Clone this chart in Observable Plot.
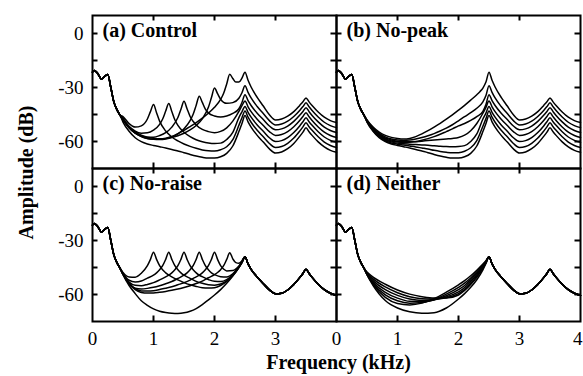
<!DOCTYPE html>
<html><head><meta charset="utf-8">
<script src="https://cdn.jsdelivr.net/npm/d3@7"></script>
<script src="https://cdn.jsdelivr.net/npm/@observablehq/plot@0.6"></script>
<style>html,body{margin:0;padding:0;background:#fff;}</style>
</head><body><div id="chart"></div>
<script>
// ---- panel meta ----
const panelLabels = ["(a) Control", "(b) No-peak", "(c) No-raise", "(d) Neither"];
const panelCols = ["L", "R", "L", "R"];
const panelRowsId = ["top", "top", "bot", "bot"];
const yTickValues = [0, -30, -60];
const yMinorTicks = [0, -15, -30, -45, -60];
const xTickValues = [1, 2, 3];
const xLabelsLeft = [0, 1, 2, 3];
const xLabelsRight = [0, 1, 2, 3, 4];

// ---- shared low-frequency part (kHz, dB) ----
const onset = [[0,-21.5],[0.03,-20.5],[0.08,-22],[0.15,-25.3],[0.2,-23.8],[0.25,-22.8],[0.3,-30],[0.35,-38],[0.4,-42.3],[0.45,-45.3]];

// ---- (a) Control: mid section 0.5-2.5 kHz ----
const ctrlNone = [[0.5,-49.2],[0.6,-54.3],[0.7,-57.9],[0.8,-60.1],[0.9,-61.4],[1.0,-62.2],[1.1,-62.9],[1.2,-63.6],[1.3,-64.4],[1.4,-65.3],[1.5,-66.2],[1.6,-67.2],[1.7,-68.1],[1.8,-68.8],[1.9,-69.2],[2.0,-69.2],[2.1,-68.5],[2.2,-66.6],[2.3,-62.5],[2.4,-54.5],[2.45,-50],[2.5,-45.5]];
const ctrl100 = [[0.5,-46.2],[0.6,-50.1],[0.7,-52],[0.8,-51.3],[0.9,-47.5],[0.95,-43.4],[1.0,-39.4],[1.05,-44],[1.1,-48.7],[1.2,-54.2],[1.3,-57.5],[1.4,-59.7],[1.5,-61.4],[1.6,-62.7],[1.7,-63.8],[1.8,-64.7],[1.9,-65.2],[2.0,-65.3],[2.1,-64.6],[2.2,-62.9],[2.3,-59],[2.4,-51],[2.45,-46.8],[2.5,-43]];
const ctrl125 = [[0.5,-47.1],[0.6,-51.6],[0.7,-54.3],[0.8,-55.4],[0.9,-55.2],[1.0,-53.7],[1.1,-50.5],[1.15,-47.5],[1.2,-43.1],[1.25,-38.9],[1.3,-43.3],[1.35,-47.9],[1.4,-51.1],[1.5,-54.9],[1.6,-57.3],[1.7,-59],[1.8,-60.1],[1.9,-60.8],[2.0,-61.1],[2.1,-60.9],[2.2,-58.9],[2.3,-54.9],[2.4,-46.7],[2.45,-43.5],[2.5,-40.5]];
const ctrl150 = [[0.5,-47.7],[0.6,-52.3],[0.7,-55.2],[0.8,-56.9],[0.9,-57.6],[1.0,-57.6],[1.1,-56.7],[1.2,-55.1],[1.3,-52],[1.4,-46.7],[1.45,-42.1],[1.5,-37.6],[1.55,-41.8],[1.6,-46.1],[1.7,-50.8],[1.8,-53.3],[1.9,-54.5],[2.0,-55.1],[2.1,-54.4],[2.2,-52.4],[2.3,-48.7],[2.4,-43.3],[2.45,-40.1],[2.5,-37.5]];
const ctrl175 = [[0.5,-48],[0.6,-52.4],[0.7,-55.4],[0.8,-57.3],[0.9,-58.4],[1.0,-58.8],[1.1,-58.8],[1.2,-58.4],[1.3,-57.5],[1.4,-55.7],[1.5,-52.9],[1.6,-48.4],[1.65,-44.9],[1.7,-39.8],[1.75,-34.8],[1.8,-38.3],[1.85,-42],[1.9,-44.1],[2.0,-45.8],[2.1,-46.4],[2.2,-45.8],[2.3,-44.4],[2.4,-41.8],[2.45,-38.3],[2.5,-34]];
const ctrl200 = [[0.5,-48],[0.6,-52.3],[0.7,-55.3],[0.8,-57.1],[0.9,-58.3],[1.0,-58.8],[1.1,-58.9],[1.2,-58.6],[1.3,-57.8],[1.4,-56.8],[1.5,-55.4],[1.6,-53.6],[1.7,-51.1],[1.8,-47.4],[1.9,-41],[1.95,-35.6],[2.0,-30.3],[2.05,-33.4],[2.1,-36.5],[2.2,-38.8],[2.3,-38.4],[2.4,-36],[2.45,-32.9],[2.5,-29]];
const ctrl225 = [[0.5,-48],[0.6,-51.9],[0.7,-54.7],[0.8,-56.5],[0.9,-57.6],[1.0,-58.2],[1.1,-58.5],[1.2,-58.2],[1.3,-57.2],[1.4,-55.6],[1.5,-53.8],[1.6,-51.7],[1.7,-49.5],[1.8,-47],[1.9,-44.3],[2.0,-41],[2.1,-36.6],[2.15,-33.2],[2.2,-28],[2.25,-22.7],[2.3,-25],[2.35,-27],[2.4,-27],[2.45,-24.8],[2.5,-21.5]];

// ---- (b) No-peak ----
const npNone = ctrlNone;
const np100 = [[0.5,-49],[0.6,-54],[0.7,-57.5],[0.8,-59.6],[0.9,-60.8],[1.0,-61.5],[1.1,-62],[1.2,-62.5],[1.3,-63],[1.4,-63.6],[1.5,-64.2],[1.6,-64.9],[1.7,-65.5],[1.8,-66],[1.9,-66.3],[2.0,-66.2],[2.1,-65.4],[2.2,-63.5],[2.3,-59.5],[2.4,-51.5],[2.45,-47.3],[2.5,-43]];
const np125 = [[0.5,-48.8],[0.6,-53.7],[0.7,-57],[0.8,-59],[0.9,-60.2],[1.0,-60.9],[1.1,-61.3],[1.2,-61.5],[1.3,-61.7],[1.4,-61.9],[1.5,-62.1],[1.6,-62.3],[1.7,-62.6],[1.8,-62.8],[1.9,-62.9],[2.0,-62.8],[2.1,-62.3],[2.2,-60],[2.3,-55.8],[2.4,-47.5],[2.45,-44.2],[2.5,-40.5]];
const np150 = [[0.5,-48.6],[0.6,-53.3],[0.7,-56.5],[0.8,-58.5],[0.9,-59.7],[1.0,-60.3],[1.1,-60.5],[1.2,-60.4],[1.3,-60.1],[1.4,-59.8],[1.5,-59.5],[1.6,-59.2],[1.7,-58.9],[1.8,-58.6],[1.9,-58.3],[2.0,-57.8],[2.1,-56.5],[2.2,-54],[2.3,-50],[2.4,-44.3],[2.45,-41],[2.5,-37.5]];
const np175 = [[0.5,-48.4],[0.6,-52.9],[0.7,-56],[0.8,-58],[0.9,-59.2],[1.0,-59.9],[1.1,-60.2],[1.2,-60.2],[1.3,-60],[1.4,-59.3],[1.5,-58.4],[1.6,-57.3],[1.7,-56],[1.8,-54.5],[1.9,-53],[2.0,-51.3],[2.1,-50],[2.2,-48.3],[2.3,-46.2],[2.4,-43.2],[2.45,-39.5],[2.5,-34]];
const np200 = [[0.5,-48.2],[0.6,-52.5],[0.7,-55.5],[0.8,-57.4],[0.9,-58.6],[1.0,-59.2],[1.1,-59.4],[1.2,-59.2],[1.3,-58.6],[1.4,-57.8],[1.5,-56.8],[1.6,-55.6],[1.7,-54.2],[1.8,-52.6],[1.9,-50.7],[2.0,-48.5],[2.1,-46.2],[2.2,-44],[2.3,-41.5],[2.4,-38],[2.45,-34.5],[2.5,-29]];
const np225 = [[0.5,-48],[0.6,-52],[0.7,-54.8],[0.8,-56.6],[0.9,-57.7],[1.0,-58.3],[1.1,-58.6],[1.2,-58.3],[1.3,-57.3],[1.4,-55.8],[1.5,-54],[1.6,-52],[1.7,-49.9],[1.8,-47.6],[1.9,-45.2],[2.0,-42.6],[2.1,-39.9],[2.2,-37],[2.3,-34],[2.35,-32.3],[2.4,-30.3],[2.45,-27],[2.5,-21.5]];

// ---- (c) No-raise ----
const nrNone = [[0.5,-49],[0.6,-55],[0.7,-59.5],[0.8,-63.5],[0.9,-66],[1.0,-68],[1.1,-69.3],[1.2,-70],[1.3,-70.4],[1.4,-70.5],[1.5,-70.2],[1.6,-69.3],[1.7,-67.8],[1.8,-65.6],[1.9,-63],[2.0,-60.3],[2.1,-57.3],[2.2,-53.8],[2.3,-49.8],[2.4,-45],[2.45,-42.2],[2.5,-39]];
const nr100 = [[0.5,-47.7],[0.6,-50.3],[0.7,-50.4],[0.8,-48.2],[0.9,-44],[0.95,-40.5],[1.0,-36.5],[1.05,-40.5],[1.1,-44],[1.2,-48],[1.3,-50.2],[1.4,-51.9],[1.5,-53.4],[1.6,-54.6],[1.7,-55.5],[1.8,-56.2],[1.9,-56.4],[2.0,-56.2],[2.1,-55],[2.2,-52.8],[2.3,-49.4],[2.4,-44.9],[2.45,-42.1],[2.5,-39]];
const nr125 = [[0.5,-48.3],[0.6,-52.1],[0.7,-53],[0.8,-52.5],[0.9,-50.9],[1.0,-49.3],[1.05,-48],[1.1,-46.3],[1.15,-44],[1.2,-40.5],[1.25,-36.5],[1.3,-40.5],[1.35,-44],[1.4,-46.3],[1.45,-48],[1.5,-49.3],[1.6,-51],[1.7,-52.7],[1.8,-53.8],[1.9,-54.6],[2.0,-54.8],[2.1,-54.2],[2.2,-52.4],[2.3,-49.3],[2.4,-44.9],[2.45,-42.1],[2.5,-39]];
const nr150 = [[0.5,-48.5],[0.6,-53.1],[0.7,-54.9],[0.8,-55.1],[0.9,-54.4],[1.0,-53.4],[1.1,-51.9],[1.2,-50.2],[1.25,-49.3],[1.3,-48],[1.35,-46.3],[1.4,-44],[1.45,-40.5],[1.5,-36.5],[1.55,-40.5],[1.6,-44],[1.65,-46.3],[1.7,-48],[1.75,-49.3],[1.8,-50.1],[1.9,-51.7],[2.0,-52.7],[2.1,-52.8],[2.2,-51.7],[2.3,-49],[2.4,-44.8],[2.45,-42.1],[2.5,-39]];
const nr175 = [[0.5,-48.7],[0.6,-53.6],[0.7,-56.5],[0.8,-56.9],[0.9,-56.6],[1.0,-56],[1.1,-55.1],[1.2,-54],[1.3,-52.8],[1.4,-51.1],[1.5,-49.3],[1.55,-48],[1.6,-46.3],[1.65,-44],[1.7,-40.5],[1.75,-36.5],[1.8,-40.5],[1.85,-44],[1.9,-46.3],[1.95,-48],[2.0,-49],[2.1,-50.1],[2.2,-50.3],[2.3,-48.5],[2.4,-44.6],[2.45,-42.1],[2.5,-39]];
const nr200 = [[0.5,-48.7],[0.6,-53.9],[0.7,-56.7],[0.8,-58],[0.9,-58.1],[1.0,-57.9],[1.1,-57.2],[1.2,-56.5],[1.3,-55.7],[1.4,-54.6],[1.5,-53.5],[1.6,-52],[1.7,-50.2],[1.75,-49.3],[1.8,-48],[1.85,-46.3],[1.9,-44],[1.95,-40.5],[2.0,-36.5],[2.05,-40.5],[2.1,-44],[2.15,-45.9],[2.2,-46.9],[2.3,-46.7],[2.4,-44.2],[2.45,-41.9],[2.5,-39]];
const nr225 = [[0.5,-48.8],[0.6,-54.1],[0.7,-57.3],[0.8,-58.9],[0.9,-59.2],[1.0,-59.2],[1.1,-58.8],[1.2,-58.3],[1.3,-57.7],[1.4,-57],[1.5,-56.1],[1.6,-55.1],[1.7,-53.9],[1.8,-52.6],[1.9,-50.7],[2.0,-49],[2.05,-47.8],[2.1,-46.2],[2.15,-44],[2.2,-40.5],[2.25,-36.8],[2.3,-40.2],[2.35,-42.3],[2.4,-42.6],[2.45,-41.3],[2.5,-39]];

// ---- (d) Neither ----
const nNone = [[0.5,-49],[0.6,-55],[0.7,-59.7],[0.8,-63.3],[1.0,-67.5],[1.2,-69.6],[1.4,-70.4],[1.6,-70.1],[1.8,-67.5],[2.0,-62.5],[2.1,-59.5],[2.2,-56],[2.3,-51.8],[2.4,-46.3],[2.45,-42.8],[2.5,-39]];
const n100 = [[0.5,-47.5],[0.6,-50.3],[0.8,-54.3],[1.0,-57.5],[1.2,-59.8],[1.4,-61.2],[1.6,-62],[1.8,-62],[2.0,-60.3],[2.1,-57.8],[2.2,-54.5],[2.3,-50.5],[2.4,-45.5],[2.45,-42.5],[2.5,-39]];
const n125 = [[0.5,-48],[0.6,-51.3],[0.8,-55.8],[1.0,-59],[1.2,-61.2],[1.4,-62.3],[1.6,-62.5],[1.8,-61.8],[2.0,-59.5],[2.1,-57.3],[2.2,-53.8],[2.3,-49.8],[2.4,-45],[2.45,-42.1],[2.5,-39]];
const n150 = [[0.5,-48.3],[0.6,-52.3],[0.8,-57.3],[1.0,-60.5],[1.2,-62.5],[1.4,-63.3],[1.6,-62.8],[1.8,-61.3],[2.0,-58.5],[2.1,-56.2],[2.2,-52.8],[2.3,-49],[2.4,-44.6],[2.45,-42],[2.5,-39]];
const n175 = [[0.5,-48.6],[0.6,-53.2],[0.8,-58.8],[1.0,-62],[1.2,-63.8],[1.4,-64],[1.6,-63],[1.8,-60.7],[2.0,-57.3],[2.1,-55],[2.2,-51.8],[2.3,-48.2],[2.4,-44.1],[2.45,-41.8],[2.5,-39]];
const n200 = [[0.5,-48.8],[0.6,-53.9],[0.8,-60.2],[1.0,-63.5],[1.2,-64.8],[1.4,-64.5],[1.6,-62.8],[1.8,-59.8],[2.0,-56],[2.1,-53.7],[2.2,-50.8],[2.3,-47.4],[2.4,-43.6],[2.45,-41.5],[2.5,-39]];
const n225 = [[0.5,-49],[0.6,-54.4],[0.8,-61.6],[1.0,-65],[1.2,-65.8],[1.4,-64.8],[1.6,-62.3],[1.8,-58.7],[2.0,-54.6],[2.1,-52.3],[2.2,-49.6],[2.3,-46.5],[2.4,-43],[2.45,-41.2],[2.5,-39]];

// ---- high-frequency tails (2.55-4 kHz) ----
const tailNone = [[2.55,-49.1],[2.6,-52],[2.7,-56.6],[2.8,-60.3],[2.9,-64.1],[3.0,-66.4],[3.1,-65.8],[3.2,-64],[3.3,-61.1],[3.4,-57],[3.45,-54.8],[3.5,-52.4],[3.55,-54.6],[3.6,-56.6],[3.7,-60.2],[3.8,-63],[3.9,-64.9],[4.0,-66]];
const tail100 = [[2.55,-46.5],[2.6,-49.3],[2.7,-53.8],[2.8,-57.4],[2.9,-61.1],[3.0,-63.3],[3.1,-62.8],[3.2,-61],[3.3,-58.1],[3.4,-54.1],[3.45,-51.9],[3.5,-49.6],[3.55,-51.8],[3.6,-53.8],[3.7,-57.4],[3.8,-60.3],[3.9,-62.2],[4.0,-63.3]];
const tail125 = [[2.55,-43.8],[2.6,-46.5],[2.7,-50.8],[2.8,-54.3],[2.9,-57.9],[3.0,-60],[3.1,-59.5],[3.2,-57.8],[3.3,-55],[3.4,-51.2],[3.45,-49],[3.5,-46.8],[3.55,-49],[3.6,-51],[3.7,-54.6],[3.8,-57.5],[3.9,-59.4],[4.0,-60.5]];
const tail150 = [[2.55,-40.7],[2.6,-43.4],[2.7,-47.6],[2.8,-51.1],[2.9,-54.5],[3.0,-56.6],[3.1,-56.1],[3.2,-54.5],[3.3,-51.8],[3.4,-48.2],[3.45,-46.1],[3.5,-44],[3.55,-46.2],[3.6,-48.3],[3.7,-51.9],[3.8,-54.8],[3.9,-56.7],[4.0,-57.8]];
const tail175 = [[2.55,-37.3],[2.6,-40],[2.7,-44.3],[2.8,-47.8],[2.9,-51.4],[3.0,-53.5],[3.1,-53],[3.2,-51.4],[3.3,-48.8],[3.4,-45.3],[3.45,-43.3],[3.5,-41.2],[3.55,-43.4],[3.6,-45.5],[3.7,-49.1],[3.8,-52],[3.9,-53.9],[4.0,-55]];
const tail200 = [[2.55,-32.7],[2.6,-35.8],[2.7,-40.6],[2.8,-44.5],[2.9,-48.4],[3.0,-50.8],[3.1,-50.3],[3.2,-48.7],[3.3,-46.1],[3.4,-42.6],[3.45,-40.6],[3.5,-38.5],[3.55,-40.7],[3.6,-42.8],[3.7,-46.4],[3.8,-49.3],[3.9,-51.2],[4.0,-52.3]];
const tail225 = [[2.55,-26],[2.6,-29.7],[2.7,-35.5],[2.8,-40.3],[2.9,-45.1],[3.0,-48],[3.1,-47.5],[3.2,-45.9],[3.3,-43.4],[3.4,-39.8],[3.45,-37.9],[3.5,-35.8],[3.55,-38],[3.6,-40],[3.7,-43.6],[3.8,-46.5],[3.9,-48.4],[4.0,-49.5]];
const tailFixed = [[2.55,-43],[2.6,-46],[2.7,-50.3],[2.8,-54],[2.9,-57.4],[3.0,-59.6],[3.1,-59.3],[3.2,-57.5],[3.3,-54.5],[3.4,-50.5],[3.45,-48.3],[3.5,-46],[3.55,-48.3],[3.6,-50.5],[3.7,-54.3],[3.8,-57.3],[3.9,-59.3],[4.0,-60.5]];

// ---- assemble table ----
const raisedTails = [tailNone, tail100, tail125, tail150, tail175, tail200, tail225];
const fixedTails = [tailFixed, tailFixed, tailFixed, tailFixed, tailFixed, tailFixed, tailFixed];
const panels = [
  {mids: [ctrlNone, ctrl100, ctrl125, ctrl150, ctrl175, ctrl200, ctrl225], tails: raisedTails},
  {mids: [npNone, np100, np125, np150, np175, np200, np225], tails: raisedTails},
  {mids: [nrNone, nr100, nr125, nr150, nr175, nr200, nr225], tails: fixedTails},
  {mids: [nNone, n100, n125, n150, n175, n200, n225], tails: fixedTails}
];
const rows = [];
panels.forEach((p, pi) => {
  p.mids.forEach((mid, ci) => {
    for (const [f, db] of [...onset, ...mid, ...p.tails[ci]]) {
      rows.push({col: panelCols[pi], row: panelRowsId[pi], curve: pi + "-" + ci, f, db});
    }
  });
});
const titleRows = panelLabels.map((label, i) => ({label, col: panelCols[i], row: panelRowsId[i]}));
const yLabelRows = [];
for (const r of ["top", "bot"]) for (const v of yTickValues) yLabelRows.push({row: r, col: "L", v});
const xLabelRows = [...xLabelsLeft.map(f => ({col: "L", row: "bot", f})), ...xLabelsRight.map(f => ({col: "R", row: "bot", f}))];
const xLabelInner = xLabelRows.filter(d => d.f < 4);
const xLabelEdge = xLabelRows.filter(d => d.f >= 4);

const W = 583, H = 376, mL = 91, mR = 3, mT = 14, mB = 55;
const fw = (W - mL - mR) / 2, fh = (H - mT - mB) / 2;
const serif = "'Liberation Serif', 'Times New Roman', Times, serif";
const tk = 6;

const chart = Plot.plot({
  width: W, height: H,
  marginLeft: mL, marginRight: mR, marginTop: mT, marginBottom: mB,
  x: {domain: [0, 4], axis: null},
  y: {domain: [-75, 10], axis: null},
  fx: {domain: ["L", "R"], padding: 0, axis: null},
  fy: {domain: ["top", "bot"], padding: 0, axis: null},
  style: {fontFamily: serif, background: "white", color: "black"},
  marks: [
    Plot.line(rows, {x: "f", y: "db", z: "curve", fx: "col", fy: "row", curve: "monotone-x", stroke: "black", strokeWidth: 1.5, strokeLinejoin: "round"}),
    Plot.ruleX(xTickValues, {x: d => d, insetBottom: fh - tk, stroke: "black", strokeWidth: 2}),
    Plot.ruleX(xTickValues, {x: d => d, insetTop: fh - tk, stroke: "black", strokeWidth: 2}),
    Plot.ruleY(yMinorTicks, {y: d => d, insetRight: fw - tk, stroke: "black", strokeWidth: 2}),
    Plot.ruleY(yMinorTicks, {y: d => d, insetLeft: fw - tk, stroke: "black", strokeWidth: 2}),
    Plot.frame({stroke: "black", strokeWidth: 2}),
    Plot.text(titleRows, {fx: "col", fy: "row", text: "label", frameAnchor: "top-left", textAnchor: "start", lineAnchor: "top", dx: 10, dy: 7, fontSize: 20, fontWeight: "bold", fontFamily: serif, fill: "black"}),
    Plot.text(yLabelRows, {fx: "col", fy: "row", y: "v", text: d => String(d.v), frameAnchor: "left", textAnchor: "end", lineAnchor: "middle", dx: -9, fontSize: 19, fontFamily: serif, fill: "black"}),
    Plot.text(xLabelInner, {fx: "col", fy: "row", x: "f", text: d => String(d.f), frameAnchor: "bottom", textAnchor: "middle", lineAnchor: "bottom", dy: 23, fontSize: 19, fontFamily: serif, fill: "black"}),
    Plot.text(xLabelEdge, {fx: "col", fy: "row", x: "f", text: d => String(d.f), frameAnchor: "bottom", textAnchor: "end", lineAnchor: "bottom", dx: 2, dy: 23, fontSize: 19, fontFamily: serif, fill: "black"}),
    Plot.text(["Frequency (kHz)"], {fx: () => "L", fy: () => "bot", text: d => d, frameAnchor: "bottom-right", textAnchor: "middle", lineAnchor: "bottom", dx: 2, dy: 47, fontSize: 20, fontWeight: "bold", fontFamily: serif, fill: "black"}),
    Plot.text(["Amplitude (dB)"], {fx: () => "L", fy: () => "top", text: d => d, frameAnchor: "bottom-left", textAnchor: "middle", lineAnchor: "middle", rotate: -90, dx: -66, dy: 4, fontSize: 20, fontWeight: "bold", fontFamily: serif, fill: "black"})
  ]
});
document.getElementById("chart").appendChild(chart);
</script></body></html>
